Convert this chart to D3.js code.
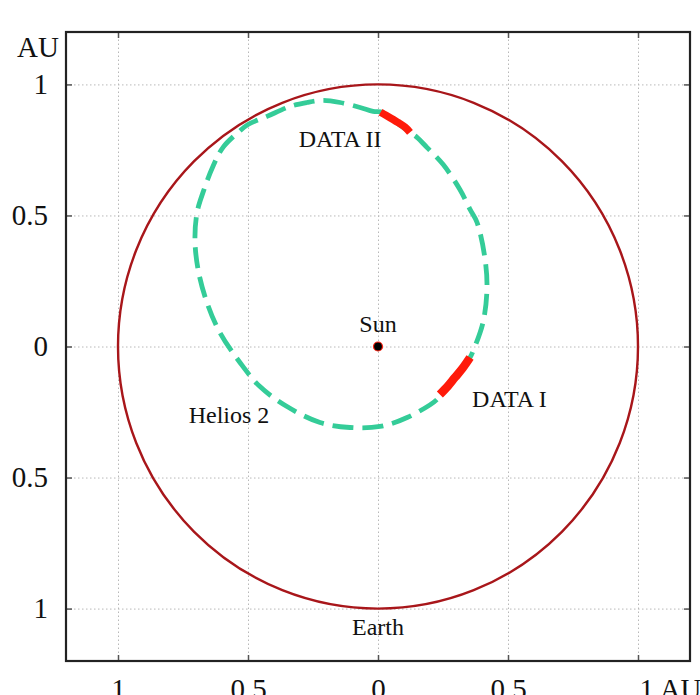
<!DOCTYPE html>
<html lang="en">
<head>
<meta charset="UTF-8">
<title>Helios 2 orbit</title>
<style>
  body { margin: 0; background: #fff; }
  svg text { font-family: "Liberation Serif", "Times New Roman", serif; fill: #111; }
  .grid line { stroke: #b8b8b8; stroke-dasharray: 1.5 2.5; }
  .grid path { display: none; }
  .axis path { display: none; }
  .axis line { stroke: #555; stroke-width: 1.5; }
  .axis text { font-size: 29px; }
</style>
</head>
<body>
<div id="d3-container"></div>
<script src="https://d3js.org/d3.v7.min.js"></script>
<script>
const width = 700
const height = 695
const margin = { left: 66, right: 9, top: 32, bottom: 34 }

const tickValues = [-1, -0.5, 0, 0.5, 1]

// Helios 2 orbit (AU)
const heliosX = [0.019, -0.019, -0.069, -0.146, -0.212, -0.273, -0.338, -0.427, -0.500, -0.538,
  -0.596, -0.635, -0.673, -0.696, -0.704, -0.692, -0.658, -0.608, -0.531, -0.454,
  -0.350, -0.223, -0.108, 0.008, 0.112, 0.227, 0.238, 0.296, 0.354, 0.365,
  0.404, 0.419, 0.412, 0.381, 0.354, 0.315, 0.250, 0.188, 0.150, 0.123, 0.065]
const heliosY = [0.893, 0.897, 0.912, 0.931, 0.939, 0.931, 0.916, 0.878, 0.847, 0.817,
  0.760, 0.687, 0.588, 0.511, 0.408, 0.294, 0.168, 0.053, -0.061, -0.153,
  -0.229, -0.290, -0.309, -0.305, -0.271, -0.202, -0.183, -0.118, -0.042, -0.019,
  0.092, 0.218, 0.332, 0.473, 0.523, 0.599, 0.695, 0.760, 0.798, 0.817, 0.859]

// highlighted data stretches
const data1X = [0.238, 0.268, 0.296, 0.326, 0.354]
const data1Y = [-0.183, -0.152, -0.118, -0.082, -0.042]
const data2X = [0.010, 0.045, 0.080, 0.105, 0.123]
const data2Y = [0.894, 0.874, 0.853, 0.836, 0.817]

const earthRadius = 1

const labels = [
  { text: 'Sun', x: 0, y: 0.057, anchor: 'middle' },
  { text: 'Earth', x: 0, y: -1.1, anchor: 'middle' },
  { text: 'Helios 2', x: -0.573, y: -0.29, anchor: 'middle' },
  { text: 'DATA I', x: 0.362, y: -0.229, anchor: 'start' },
  { text: 'DATA II', x: -0.146, y: 0.763, anchor: 'middle' }
]

const xScale = d3.scaleLinear().domain([-1.2, 1.2]).range([margin.left, width - margin.right - 1])
const yScale = d3.scaleLinear().domain([-1.2, 1.2]).range([height - margin.bottom, margin.top])

const svg = d3.select('#d3-container')
  .append('svg')
  .attr('width', width)
  .attr('height', height)

const plotW = xScale(1.2) - xScale(-1.2)
const plotH = yScale(-1.2) - yScale(1.2)

// grid
svg.append('g')
  .attr('class', 'grid')
  .attr('transform', `translate(0, ${yScale(-1.2)})`)
  .call(d3.axisBottom(xScale).tickValues(tickValues).tickSize(-plotH).tickFormat(''))
svg.append('g')
  .attr('class', 'grid')
  .attr('transform', `translate(${xScale(-1.2)}, 0)`)
  .call(d3.axisLeft(yScale).tickValues(tickValues).tickSize(-plotW).tickFormat(''))

const fmt = d => d3.format('')(Math.abs(d))

// axes with inward ticks
const xAxis = svg.append('g')
  .attr('class', 'axis')
  .attr('transform', `translate(0, ${yScale(-1.2)})`)
  .call(d3.axisBottom(xScale).tickValues(tickValues).tickSizeInner(-6).tickSizeOuter(0)
    .tickPadding(17).tickFormat(d => d === 1 ? '1 AU' : fmt(d)))
xAxis.selectAll('.tick text')
  .filter(d => d === 1)
  .attr('text-anchor', 'start')
  .attr('dx', 1)

svg.append('g')
  .attr('class', 'axis')
  .attr('transform', `translate(${xScale(-1.2)}, 0)`)
  .call(d3.axisLeft(yScale).tickValues(tickValues).tickSizeInner(-6).tickSizeOuter(0)
    .tickPadding(18).tickFormat(fmt))

svg.append('g')
  .attr('class', 'axis')
  .attr('transform', `translate(0, ${yScale(1.2)})`)
  .call(d3.axisTop(xScale).tickValues(tickValues).tickSizeInner(-6).tickSizeOuter(0).tickFormat(''))

svg.append('g')
  .attr('class', 'axis')
  .attr('transform', `translate(${xScale(1.2)}, 0)`)
  .call(d3.axisRight(yScale).tickValues(tickValues).tickSizeInner(-6).tickSizeOuter(0).tickFormat(''))

svg.append('text')
  .attr('x', xScale(-1.2) - 7)
  .attr('y', yScale(1.2) + 25)
  .attr('text-anchor', 'end')
  .style('font-size', '29px')
  .text('AU')

// Earth orbit
svg.append('ellipse')
  .attr('cx', xScale(0))
  .attr('cy', yScale(0))
  .attr('rx', xScale(earthRadius) - xScale(0))
  .attr('ry', yScale(0) - yScale(earthRadius))
  .attr('fill', 'none')
  .attr('stroke', '#a8161a')
  .attr('stroke-width', 2.4)

const line = d3.line()
  .x(d => xScale(d[0]))
  .y(d => yScale(d[1]))

const heliosPts = d3.zip(heliosX, heliosY)
svg.append('path')
  .datum(heliosPts)
  .attr('d', line.curve(d3.curveCatmullRomClosed))
  .attr('fill', 'none')
  .attr('stroke', '#34cc98')
  .attr('stroke-width', 4.8)
  .attr('stroke-dasharray', '21 9')

const segLine = d3.line().x(d => xScale(d[0])).y(d => yScale(d[1])).curve(d3.curveCatmullRom)
svg.append('path')
  .datum(d3.zip(data1X, data1Y))
  .attr('d', segLine)
  .attr('fill', 'none')
  .attr('stroke', '#ff1a0a')
  .attr('stroke-width', 8.5)
svg.append('path')
  .datum(d3.zip(data2X, data2Y))
  .attr('d', segLine)
  .attr('fill', 'none')
  .attr('stroke', '#ff1a0a')
  .attr('stroke-width', 7.5)

// Sun
svg.append('circle')
  .attr('cx', xScale(0))
  .attr('cy', yScale(0))
  .attr('r', 4.5)
  .attr('fill', '#000')
  .attr('stroke', '#ff2010')
  .attr('stroke-width', 1.2)

svg.selectAll('.label')
  .data(labels)
  .enter()
  .append('text')
  .attr('class', 'label')
  .attr('x', d => xScale(d.x))
  .attr('y', d => yScale(d.y))
  .attr('text-anchor', d => d.anchor)
  .style('font-size', '24px')
  .text(d => d.text)

// frame
svg.append('rect')
  .attr('x', xScale(-1.2))
  .attr('y', yScale(1.2))
  .attr('width', plotW)
  .attr('height', plotH)
  .attr('fill', 'none')
  .attr('stroke', '#222')
  .attr('stroke-width', 2.2)
</script>
</body>
</html>
